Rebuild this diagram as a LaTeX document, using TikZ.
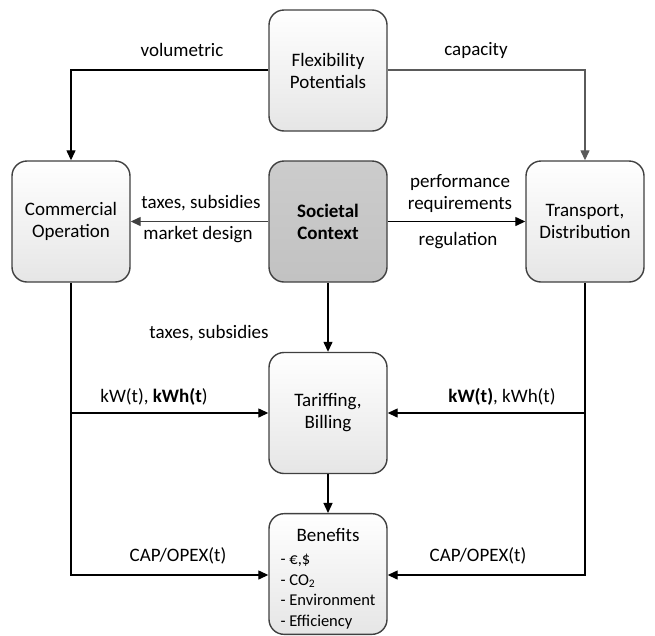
\documentclass[tikz,border=0pt]{standalone}
\usepackage{fontspec}
\setmainfont{Carlito}
\usetikzlibrary{arrows.meta}
\definecolor{boxline}{HTML}{404040}
\definecolor{grayline}{HTML}{5A5A5A}
\tikzset{
  box/.style={draw=boxline, line width=1.4pt, rounded corners=15pt,
    minimum width=118pt, minimum height=121pt, inner sep=2pt,
    top color=white, bottom color=black!10, align=center,
    font=\fontsize{19}{22}\selectfont},
  darkbox/.style={box, top color=black!20, bottom color=black!24},
  conn/.style={line width=1.3pt, -{Triangle[length=10pt,width=9pt]}},
  lbl/.style={font=\fontsize{19}{22}\selectfont, inner sep=0pt, align=center},
}
\begin{document}
\begin{tikzpicture}[x=1pt,y=-1pt]
\useasboundingbox (0,0) rectangle (655,635);
\node[box] (flex) at (328,70.5) {Flexibility\\Potentials};
\node[box] (comm) at (71,221.5) {Commercial\\Operation};
\node[darkbox] (soc) at (328,221.5) {\textbf{Societal}\\\textbf{Context}};
\node[box] (trans) at (585,221.5) {Transport,\\Distribution};
\node[box] (tar) at (328,413) {Tariffing,\\Billing};
\node[box, minimum height=118pt] (ben) at (328,574) {\rule{0pt}{26pt}Benefits\\[1pt]
  {\fontsize{16.5}{20.5}\selectfont\begin{tabular}[t]{@{}l@{}}- €,\$\\- CO\textsubscript{2}\\- Environment\\- Efficiency\end{tabular}}};
% top connectors
\draw[conn] (flex.west |- 0,70) -| (comm.north);
\draw[conn, draw=grayline] (flex.east |- 0,70) -| (trans.north);
\node[lbl] (l1) at (182,50) {volumetric};
\node[lbl] (l2) at (476,50) {capacity};
% societal
\draw[conn, draw=boxline] (soc.west) -- (comm.east);
\draw[conn] (soc.east) -- (trans.west);
\node[lbl] (l3) at (201,203) {taxes, subsidies};
\node[lbl] (l4) at (198,235) {market design};
\node[lbl] (l5) at (460,193.5) {performance\\requirements};
\node[lbl] (l6) at (458,241) {regulation};
\draw[conn] (soc.south) -- (tar.north);
\node[lbl] (l7) at (209,333) {taxes, subsidies};
% lower branches
\coordinate (cl) at (comm.south |- 0,413);
\coordinate (cr) at (trans.south |- 0,413);
\draw[line width=1.3pt] (comm.south) -- (cl);
\draw[line width=1.3pt] (trans.south) -- (cr);
\draw[conn] (cl) -- (tar.west);
\draw[conn] (cr) -- (tar.east);
\node[lbl] (l8) at (154,397) {kW(t), \textbf{kWh(t})};
\node[lbl] (l9) at (502,397) {\textbf{kW(t)}, kWh(t)};
\draw[conn] (cl) |- (ben.west |- 0,575);
\draw[conn] (cr) |- (ben.east |- 0,575);
\node[lbl] (l10) at (178,556) {CAP/OPEX(t)};
\node[lbl] (l11) at (478,556) {CAP/OPEX(t)};
\draw[conn] (tar.south) -- (ben.north);
\end{tikzpicture}
\end{document}
